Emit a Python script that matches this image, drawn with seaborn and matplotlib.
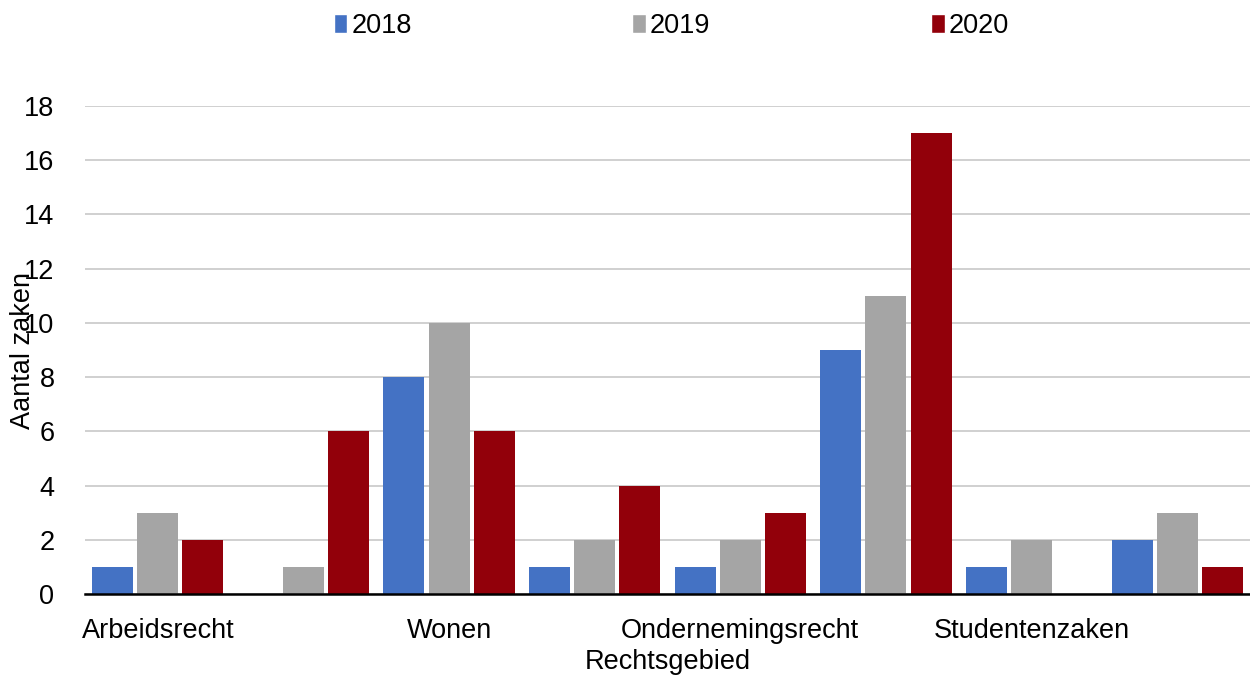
import matplotlib
matplotlib.use("Agg")
import matplotlib.pyplot as plt
import seaborn as sns
import pandas as pd
from matplotlib.patches import Patch

# data (only every other category name is shown in the original chart)
categories = ["Arbeidsrecht", "Categorie 2", "Wonen", "Categorie 4",
              "Ondernemingsrecht", "Categorie 6", "Studentenzaken", "Categorie 8"]
years = ["2018", "2019", "2020"]
v2018 = [1, 0, 8, 1, 1, 9, 1, 2]
v2019 = [3, 1, 10, 2, 2, 11, 2, 3]
v2020 = [2, 6, 6, 4, 3, 17, 0, 1]
colors = ["#4472C4", "#A5A5A5", "#92000A"]

df = pd.DataFrame({
    "Rechtsgebied": categories * 3,
    "Jaar": [y for y in years for _ in categories],
    "Aantal": v2018 + v2019 + v2020,
})

sns.set_style("white")
plt.rcParams['font.family'] = ['Liberation Sans', 'DejaVu Sans']
plt.rcParams['text.color'] = 'black'
plt.rcParams['axes.labelcolor'] = 'black'
fs = 19.5

fig = plt.figure(figsize=(12.5, 6.77), dpi=100)
ax = fig.add_axes([0.068, 0.1226, 0.932, 0.7208])

sns.barplot(data=df, x="Rechtsgebied", y="Aantal", hue="Jaar",
            palette=colors, width=0.93, gap=0.09, ax=ax, legend=False,
            saturation=1, linewidth=0)

ax.set_ylim(0, 18)
ax.set_yticks(range(0, 19, 2))
ax.set_xlim(-0.5, len(categories) - 0.5)
ax.yaxis.grid(True, color="#C8C8C8", linewidth=1.2)
ax.set_axisbelow(True)
for s in ["left", "right", "top"]:
    ax.spines[s].set_visible(False)
ax.spines["bottom"].set_color("black")
ax.spines["bottom"].set_linewidth(1.8)
ax.spines["bottom"].set_zorder(5)

ax.set_xticks(range(len(categories)))
ax.set_xticklabels([c if i % 2 == 0 else "" for i, c in enumerate(categories)])
ax.tick_params(axis="both", length=0, labelsize=fs, colors="black")
ax.tick_params(axis="x", pad=17)
ax.tick_params(axis="y", pad=22)

ax.set_xlabel("Rechtsgebied", fontsize=fs)
ax.xaxis.set_label_coords(0.5, -0.113)
ax.set_ylabel("Aantal zaken", fontsize=fs)
ax.yaxis.set_label_coords(-0.042, 0.5)

handles = [Patch(facecolor=c, label=y) for c, y in zip(colors, years)]
fig.legend(handles=handles, loc="center", bbox_to_anchor=(0.537, 0.962),
           ncol=3, frameon=False, fontsize=fs, handlelength=0.5,
           handleheight=0.7, handletextpad=0.15, columnspacing=8.15)

fig.savefig("out.png", dpi=100)
